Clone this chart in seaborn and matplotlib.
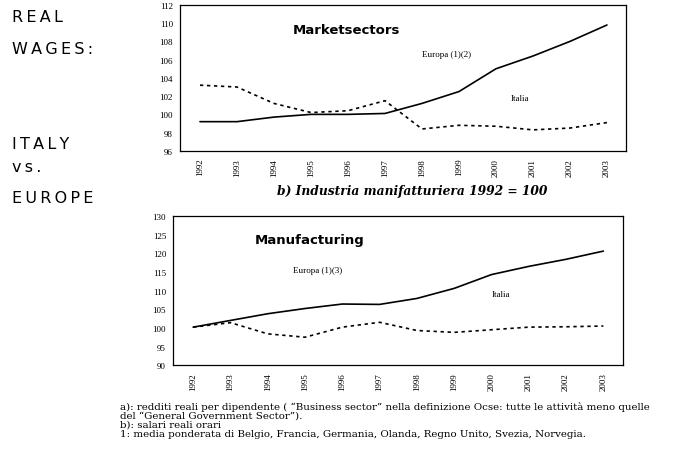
import pandas as pd
import matplotlib.pyplot as plt
import seaborn as sns

years = list(range(1992, 2004))

# a) Market sectors
market_europa = [99.2, 99.2, 99.7, 100.0, 100.0, 100.1, 101.2, 102.5, 105.0, 106.4, 108.0, 109.8]
market_italia = [103.2, 103.0, 101.2, 100.2, 100.4, 101.5, 98.4, 98.8, 98.7, 98.3, 98.5, 99.1]

# b) Manufacturing
manuf_europa = [100.2, 102.0, 103.8, 105.2, 106.4, 106.3, 107.9, 110.6, 114.3, 116.5, 118.4, 120.6]
manuf_italia = [100.2, 101.4, 98.4, 97.5, 100.2, 101.5, 99.3, 98.8, 99.5, 100.2, 100.3, 100.5]

market_yticks = list(range(96, 113, 2))
manuf_yticks = list(range(90, 131, 5))

footnotes = [
    "a): redditi reali per dipendente ( \u201cBusiness sector\u201d nella definizione Ocse: tutte le attivit\u00e0 meno quelle",
    "del \u201cGeneral Government Sector\u201d).",
    "b): salari reali orari",
    "1: media ponderata di Belgio, Francia, Germania, Olanda, Regno Unito, Svezia, Norvegia.",
]


def long_df(europa, italia):
    return pd.DataFrame({
        "year": years * 2,
        "value": europa + italia,
        "serie": ["Europa"] * len(years) + ["Italia"] * len(years),
    })


def draw(ax, df, yticks):
    sns.lineplot(data=df, x="year", y="value", hue="serie", style="serie",
                 palette={"Europa": "black", "Italia": "black"},
                 dashes={"Europa": "", "Italia": (2, 2.2)},
                 linewidth=1.2, legend=False, ax=ax)
    ax.set_xlim(1991.46, 2003.52)
    ax.set_ylim(yticks[0], yticks[-1])
    ax.set_yticks(yticks)
    ax.set_xticks(years)
    ax.set_xticklabels([str(y) for y in years], rotation=90,
                       family="Liberation Serif", fontsize=6.5)
    for lab in ax.get_yticklabels():
        lab.set_family("Liberation Serif")
        lab.set_fontsize(6.5)
    ax.tick_params(length=2, width=0.6, pad=3, colors="black")
    ax.set_xlabel("")
    ax.set_ylabel("")
    for sp in ax.spines.values():
        sp.set_color("black")
        sp.set_linewidth(0.9)
        sp.set_visible(True)
    ax.grid(False)


sns.set_theme(style="white")
plt.rcParams["text.color"] = "black"
fig = plt.figure(figsize=(6.95, 4.56), dpi=100)

ax1 = fig.add_axes([0.259, 0.667, 0.642, 0.320])
draw(ax1, long_df(market_europa, market_italia), market_yticks)
ax1.text(1994.5, 109.3, "Marketsectors", fontsize=9.5, fontweight="bold",
         family="DejaVu Sans", va="center")
ax1.text(1998.0, 106.6, "Europa (1)(2)", fontsize=6.5, family="Liberation Serif", va="center")
ax1.text(2000.4, 101.8, "Italia", fontsize=6.5, family="Liberation Serif", va="center")

ax2 = fig.add_axes([0.249, 0.197, 0.647, 0.327])
draw(ax2, long_df(manuf_europa, manuf_italia), manuf_yticks)
ax2.text(1993.66, 123.7, "Manufacturing", fontsize=9.5, fontweight="bold",
         family="DejaVu Sans", va="center")
ax2.text(1994.68, 115.6, "Europa (1)(3)", fontsize=6.5, family="Liberation Serif", va="center")
ax2.text(2000.0, 109.0, "Italia", fontsize=6.5, family="Liberation Serif", va="center")

fig.text(277 / 695, 1 - 192 / 456, "b) Industria manifatturiera 1992 = 100", fontsize=8.8,
         family="DejaVu Serif", style="italic", fontweight="bold", va="center")

left_labels = [("R\u2009E\u2009A\u2009L", 18), ("W\u2009A\u2009G\u2009E\u2009S\u2009:", 50),
               ("I\u2009T\u2009A\u2009L\u2009Y", 145), ("v\u2009s\u2009.", 168),
               ("E\u2009U\u2009R\u2009O\u2009P\u2009E", 199)]
for txt, ypix in left_labels:
    fig.text(12 / 695, 1 - ypix / 456, txt, fontsize=11.5, family="DejaVu Sans",
             va="center", ha="left")

fig.text(120 / 695, 1 - 402 / 456, "\n".join(footnotes), fontsize=7.4,
         family="DejaVu Serif", va="top", ha="left", linespacing=1.0)

fig.savefig("out.png", dpi=100)
